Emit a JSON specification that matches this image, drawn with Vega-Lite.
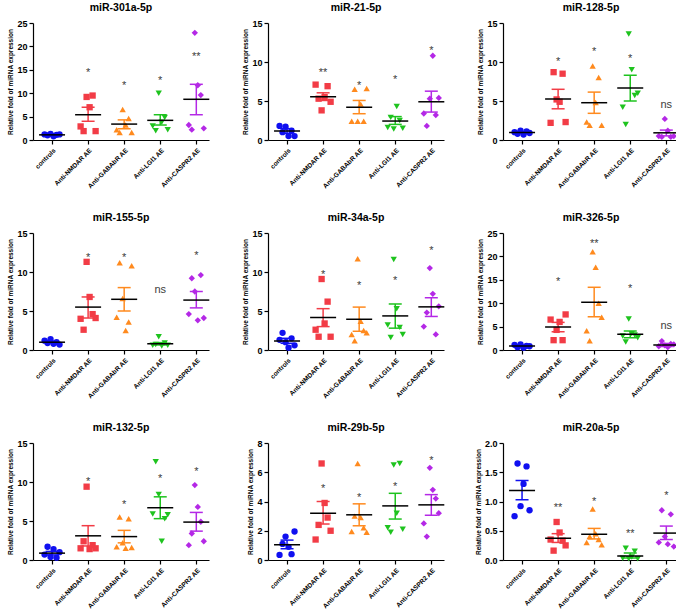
{
"$schema": "https://vega.github.io/schema/vega-lite/v6.json",
"padding": {"left": 7, "top": 2, "right": 2, "bottom": 2},
"columns": 3,
"spacing": {"row": 93, "column": 59},
"bounds": "flush",
"data": {"values": [
{"p":"miR-301a-5p","g":"controls","i":1,"y":1.2},{"p":"miR-301a-5p","g":"controls","i":2,"y":1.0},{"p":"miR-301a-5p","g":"controls","i":3,"y":1.3},{"p":"miR-301a-5p","g":"controls","i":4,"y":0.8},{"p":"miR-301a-5p","g":"controls","i":5,"y":1.1},{"p":"miR-301a-5p","g":"controls","i":6,"y":1.2},
{"p":"miR-301a-5p","g":"Anti-NMDAR AE","i":1,"y":2.9},{"p":"miR-301a-5p","g":"Anti-NMDAR AE","i":2,"y":1.9},{"p":"miR-301a-5p","g":"Anti-NMDAR AE","i":3,"y":9.2},{"p":"miR-301a-5p","g":"Anti-NMDAR AE","i":4,"y":7.0},{"p":"miR-301a-5p","g":"Anti-NMDAR AE","i":5,"y":9.5},{"p":"miR-301a-5p","g":"Anti-NMDAR AE","i":6,"y":1.9},
{"p":"miR-301a-5p","g":"Anti-GABAbR AE","i":1,"y":2.2},{"p":"miR-301a-5p","g":"Anti-GABAbR AE","i":2,"y":1.6},{"p":"miR-301a-5p","g":"Anti-GABAbR AE","i":3,"y":6.5},{"p":"miR-301a-5p","g":"Anti-GABAbR AE","i":4,"y":3.2},{"p":"miR-301a-5p","g":"Anti-GABAbR AE","i":5,"y":4.6},{"p":"miR-301a-5p","g":"Anti-GABAbR AE","i":6,"y":1.6},
{"p":"miR-301a-5p","g":"Anti-LGI1 AE","i":1,"y":3.0},{"p":"miR-301a-5p","g":"Anti-LGI1 AE","i":2,"y":2.0},{"p":"miR-301a-5p","g":"Anti-LGI1 AE","i":3,"y":10.0},{"p":"miR-301a-5p","g":"Anti-LGI1 AE","i":4,"y":3.8},{"p":"miR-301a-5p","g":"Anti-LGI1 AE","i":5,"y":4.8},{"p":"miR-301a-5p","g":"Anti-LGI1 AE","i":6,"y":2.2},
{"p":"miR-301a-5p","g":"Anti-CASPR2 AE","i":1,"y":3.2},{"p":"miR-301a-5p","g":"Anti-CASPR2 AE","i":2,"y":2.2},{"p":"miR-301a-5p","g":"Anti-CASPR2 AE","i":3,"y":22.9},{"p":"miR-301a-5p","g":"Anti-CASPR2 AE","i":4,"y":11.7},{"p":"miR-301a-5p","g":"Anti-CASPR2 AE","i":5,"y":9.6},{"p":"miR-301a-5p","g":"Anti-CASPR2 AE","i":6,"y":2.5},
{"p":"miR-21-5p","g":"controls","i":1,"y":1.8},{"p":"miR-21-5p","g":"controls","i":2,"y":1.0},{"p":"miR-21-5p","g":"controls","i":3,"y":1.7},{"p":"miR-21-5p","g":"controls","i":4,"y":0.5},{"p":"miR-21-5p","g":"controls","i":5,"y":1.2},{"p":"miR-21-5p","g":"controls","i":6,"y":0.5},
{"p":"miR-21-5p","g":"Anti-NMDAR AE","i":1,"y":7.1},{"p":"miR-21-5p","g":"Anti-NMDAR AE","i":2,"y":5.3},{"p":"miR-21-5p","g":"Anti-NMDAR AE","i":3,"y":3.8},{"p":"miR-21-5p","g":"Anti-NMDAR AE","i":4,"y":5.5},{"p":"miR-21-5p","g":"Anti-NMDAR AE","i":5,"y":6.9},{"p":"miR-21-5p","g":"Anti-NMDAR AE","i":6,"y":4.9},
{"p":"miR-21-5p","g":"Anti-GABAbR AE","i":1,"y":2.4},{"p":"miR-21-5p","g":"Anti-GABAbR AE","i":2,"y":6.5},{"p":"miR-21-5p","g":"Anti-GABAbR AE","i":3,"y":2.4},{"p":"miR-21-5p","g":"Anti-GABAbR AE","i":4,"y":4.6},{"p":"miR-21-5p","g":"Anti-GABAbR AE","i":5,"y":2.4},{"p":"miR-21-5p","g":"Anti-GABAbR AE","i":6,"y":6.6},
{"p":"miR-21-5p","g":"Anti-LGI1 AE","i":1,"y":1.6},{"p":"miR-21-5p","g":"Anti-LGI1 AE","i":2,"y":2.9},{"p":"miR-21-5p","g":"Anti-LGI1 AE","i":3,"y":1.4},{"p":"miR-21-5p","g":"Anti-LGI1 AE","i":4,"y":4.3},{"p":"miR-21-5p","g":"Anti-LGI1 AE","i":5,"y":2.5},{"p":"miR-21-5p","g":"Anti-LGI1 AE","i":6,"y":1.5},
{"p":"miR-21-5p","g":"Anti-CASPR2 AE","i":1,"y":3.4},{"p":"miR-21-5p","g":"Anti-CASPR2 AE","i":2,"y":1.8},{"p":"miR-21-5p","g":"Anti-CASPR2 AE","i":3,"y":5.3},{"p":"miR-21-5p","g":"Anti-CASPR2 AE","i":4,"y":10.8},{"p":"miR-21-5p","g":"Anti-CASPR2 AE","i":5,"y":3.2},{"p":"miR-21-5p","g":"Anti-CASPR2 AE","i":6,"y":5.4},
{"p":"miR-128-5p","g":"controls","i":1,"y":1.0},{"p":"miR-128-5p","g":"controls","i":2,"y":0.8},{"p":"miR-128-5p","g":"controls","i":3,"y":1.2},{"p":"miR-128-5p","g":"controls","i":4,"y":0.7},{"p":"miR-128-5p","g":"controls","i":5,"y":1.1},{"p":"miR-128-5p","g":"controls","i":6,"y":0.9},
{"p":"miR-128-5p","g":"Anti-NMDAR AE","i":1,"y":2.2},{"p":"miR-128-5p","g":"Anti-NMDAR AE","i":2,"y":8.7},{"p":"miR-128-5p","g":"Anti-NMDAR AE","i":3,"y":5.2},{"p":"miR-128-5p","g":"Anti-NMDAR AE","i":4,"y":4.9},{"p":"miR-128-5p","g":"Anti-NMDAR AE","i":5,"y":8.5},{"p":"miR-128-5p","g":"Anti-NMDAR AE","i":6,"y":2.3},
{"p":"miR-128-5p","g":"Anti-GABAbR AE","i":1,"y":2.3},{"p":"miR-128-5p","g":"Anti-GABAbR AE","i":2,"y":1.9},{"p":"miR-128-5p","g":"Anti-GABAbR AE","i":3,"y":9.5},{"p":"miR-128-5p","g":"Anti-GABAbR AE","i":4,"y":4.8},{"p":"miR-128-5p","g":"Anti-GABAbR AE","i":5,"y":8.0},{"p":"miR-128-5p","g":"Anti-GABAbR AE","i":6,"y":1.9},
{"p":"miR-128-5p","g":"Anti-LGI1 AE","i":1,"y":4.2},{"p":"miR-128-5p","g":"Anti-LGI1 AE","i":2,"y":2.0},{"p":"miR-128-5p","g":"Anti-LGI1 AE","i":3,"y":13.6},{"p":"miR-128-5p","g":"Anti-LGI1 AE","i":4,"y":9.0},{"p":"miR-128-5p","g":"Anti-LGI1 AE","i":5,"y":5.7},{"p":"miR-128-5p","g":"Anti-LGI1 AE","i":6,"y":6.0},
{"p":"miR-128-5p","g":"Anti-CASPR2 AE","i":1,"y":0.5},{"p":"miR-128-5p","g":"Anti-CASPR2 AE","i":2,"y":0.4},{"p":"miR-128-5p","g":"Anti-CASPR2 AE","i":3,"y":2.7},{"p":"miR-128-5p","g":"Anti-CASPR2 AE","i":4,"y":1.2},{"p":"miR-128-5p","g":"Anti-CASPR2 AE","i":5,"y":0.4},{"p":"miR-128-5p","g":"Anti-CASPR2 AE","i":6,"y":0.5},
{"p":"miR-155-5p","g":"controls","i":1,"y":1.2},{"p":"miR-155-5p","g":"controls","i":2,"y":0.9},{"p":"miR-155-5p","g":"controls","i":3,"y":1.4},{"p":"miR-155-5p","g":"controls","i":4,"y":0.8},{"p":"miR-155-5p","g":"controls","i":5,"y":1.0},{"p":"miR-155-5p","g":"controls","i":6,"y":0.7},
{"p":"miR-155-5p","g":"Anti-NMDAR AE","i":1,"y":4.0},{"p":"miR-155-5p","g":"Anti-NMDAR AE","i":2,"y":2.6},{"p":"miR-155-5p","g":"Anti-NMDAR AE","i":3,"y":11.3},{"p":"miR-155-5p","g":"Anti-NMDAR AE","i":4,"y":6.8},{"p":"miR-155-5p","g":"Anti-NMDAR AE","i":5,"y":4.6},{"p":"miR-155-5p","g":"Anti-NMDAR AE","i":6,"y":4.1},
{"p":"miR-155-5p","g":"Anti-GABAbR AE","i":1,"y":4.2},{"p":"miR-155-5p","g":"Anti-GABAbR AE","i":2,"y":11.2},{"p":"miR-155-5p","g":"Anti-GABAbR AE","i":3,"y":6.6},{"p":"miR-155-5p","g":"Anti-GABAbR AE","i":4,"y":2.5},{"p":"miR-155-5p","g":"Anti-GABAbR AE","i":5,"y":3.6},{"p":"miR-155-5p","g":"Anti-GABAbR AE","i":6,"y":10.8},
{"p":"miR-155-5p","g":"Anti-LGI1 AE","i":1,"y":0.6},{"p":"miR-155-5p","g":"Anti-LGI1 AE","i":2,"y":0.7},{"p":"miR-155-5p","g":"Anti-LGI1 AE","i":3,"y":1.7},{"p":"miR-155-5p","g":"Anti-LGI1 AE","i":4,"y":0.5},{"p":"miR-155-5p","g":"Anti-LGI1 AE","i":5,"y":0.9},{"p":"miR-155-5p","g":"Anti-LGI1 AE","i":6,"y":0.6},
{"p":"miR-155-5p","g":"Anti-CASPR2 AE","i":1,"y":4.6},{"p":"miR-155-5p","g":"Anti-CASPR2 AE","i":2,"y":9.2},{"p":"miR-155-5p","g":"Anti-CASPR2 AE","i":3,"y":7.5},{"p":"miR-155-5p","g":"Anti-CASPR2 AE","i":4,"y":3.8},{"p":"miR-155-5p","g":"Anti-CASPR2 AE","i":5,"y":9.6},{"p":"miR-155-5p","g":"Anti-CASPR2 AE","i":6,"y":4.1},
{"p":"miR-34a-5p","g":"controls","i":1,"y":1.3},{"p":"miR-34a-5p","g":"controls","i":2,"y":2.2},{"p":"miR-34a-5p","g":"controls","i":3,"y":1.0},{"p":"miR-34a-5p","g":"controls","i":4,"y":0.3},{"p":"miR-34a-5p","g":"controls","i":5,"y":1.5},{"p":"miR-34a-5p","g":"controls","i":6,"y":0.6},
{"p":"miR-34a-5p","g":"Anti-NMDAR AE","i":1,"y":2.6},{"p":"miR-34a-5p","g":"Anti-NMDAR AE","i":2,"y":1.7},{"p":"miR-34a-5p","g":"Anti-NMDAR AE","i":3,"y":9.1},{"p":"miR-34a-5p","g":"Anti-NMDAR AE","i":4,"y":3.4},{"p":"miR-34a-5p","g":"Anti-NMDAR AE","i":5,"y":6.2},{"p":"miR-34a-5p","g":"Anti-NMDAR AE","i":6,"y":1.7},
{"p":"miR-34a-5p","g":"Anti-GABAbR AE","i":1,"y":2.0},{"p":"miR-34a-5p","g":"Anti-GABAbR AE","i":2,"y":1.2},{"p":"miR-34a-5p","g":"Anti-GABAbR AE","i":3,"y":11.7},{"p":"miR-34a-5p","g":"Anti-GABAbR AE","i":4,"y":3.7},{"p":"miR-34a-5p","g":"Anti-GABAbR AE","i":5,"y":2.5},{"p":"miR-34a-5p","g":"Anti-GABAbR AE","i":6,"y":2.2},
{"p":"miR-34a-5p","g":"Anti-LGI1 AE","i":1,"y":3.2},{"p":"miR-34a-5p","g":"Anti-LGI1 AE","i":2,"y":1.6},{"p":"miR-34a-5p","g":"Anti-LGI1 AE","i":3,"y":11.6},{"p":"miR-34a-5p","g":"Anti-LGI1 AE","i":4,"y":5.3},{"p":"miR-34a-5p","g":"Anti-LGI1 AE","i":5,"y":2.9},{"p":"miR-34a-5p","g":"Anti-LGI1 AE","i":6,"y":2.0},
{"p":"miR-34a-5p","g":"Anti-CASPR2 AE","i":1,"y":3.0},{"p":"miR-34a-5p","g":"Anti-CASPR2 AE","i":2,"y":4.8},{"p":"miR-34a-5p","g":"Anti-CASPR2 AE","i":3,"y":10.5},{"p":"miR-34a-5p","g":"Anti-CASPR2 AE","i":4,"y":7.2},{"p":"miR-34a-5p","g":"Anti-CASPR2 AE","i":5,"y":2.0},{"p":"miR-34a-5p","g":"Anti-CASPR2 AE","i":6,"y":5.6},
{"p":"miR-326-5p","g":"controls","i":1,"y":1.1},{"p":"miR-326-5p","g":"controls","i":2,"y":0.6},{"p":"miR-326-5p","g":"controls","i":3,"y":1.2},{"p":"miR-326-5p","g":"controls","i":4,"y":0.5},{"p":"miR-326-5p","g":"controls","i":5,"y":0.9},{"p":"miR-326-5p","g":"controls","i":6,"y":0.8},
{"p":"miR-326-5p","g":"Anti-NMDAR AE","i":1,"y":6.5},{"p":"miR-326-5p","g":"Anti-NMDAR AE","i":2,"y":2.1},{"p":"miR-326-5p","g":"Anti-NMDAR AE","i":3,"y":4.3},{"p":"miR-326-5p","g":"Anti-NMDAR AE","i":4,"y":6.0},{"p":"miR-326-5p","g":"Anti-NMDAR AE","i":5,"y":2.1},{"p":"miR-326-5p","g":"Anti-NMDAR AE","i":6,"y":7.6},
{"p":"miR-326-5p","g":"Anti-GABAbR AE","i":1,"y":4.1},{"p":"miR-326-5p","g":"Anti-GABAbR AE","i":2,"y":2.0},{"p":"miR-326-5p","g":"Anti-GABAbR AE","i":3,"y":21.0},{"p":"miR-326-5p","g":"Anti-GABAbR AE","i":4,"y":17.7},{"p":"miR-326-5p","g":"Anti-GABAbR AE","i":5,"y":10.0},{"p":"miR-326-5p","g":"Anti-GABAbR AE","i":6,"y":7.0},
{"p":"miR-326-5p","g":"Anti-LGI1 AE","i":1,"y":3.0},{"p":"miR-326-5p","g":"Anti-LGI1 AE","i":2,"y":1.7},{"p":"miR-326-5p","g":"Anti-LGI1 AE","i":3,"y":6.6},{"p":"miR-326-5p","g":"Anti-LGI1 AE","i":4,"y":3.5},{"p":"miR-326-5p","g":"Anti-LGI1 AE","i":5,"y":3.2},{"p":"miR-326-5p","g":"Anti-LGI1 AE","i":6,"y":2.6},
{"p":"miR-326-5p","g":"Anti-CASPR2 AE","i":1,"y":0.8},{"p":"miR-326-5p","g":"Anti-CASPR2 AE","i":2,"y":1.9},{"p":"miR-326-5p","g":"Anti-CASPR2 AE","i":3,"y":1.0},{"p":"miR-326-5p","g":"Anti-CASPR2 AE","i":4,"y":0.6},{"p":"miR-326-5p","g":"Anti-CASPR2 AE","i":5,"y":1.3},{"p":"miR-326-5p","g":"Anti-CASPR2 AE","i":6,"y":1.2},
{"p":"miR-132-5p","g":"controls","i":1,"y":0.7},{"p":"miR-132-5p","g":"controls","i":2,"y":1.7},{"p":"miR-132-5p","g":"controls","i":3,"y":0.4},{"p":"miR-132-5p","g":"controls","i":4,"y":1.4},{"p":"miR-132-5p","g":"controls","i":5,"y":0.3},{"p":"miR-132-5p","g":"controls","i":6,"y":1.0},
{"p":"miR-132-5p","g":"Anti-NMDAR AE","i":1,"y":1.5},{"p":"miR-132-5p","g":"Anti-NMDAR AE","i":2,"y":2.4},{"p":"miR-132-5p","g":"Anti-NMDAR AE","i":3,"y":9.4},{"p":"miR-132-5p","g":"Anti-NMDAR AE","i":4,"y":1.4},{"p":"miR-132-5p","g":"Anti-NMDAR AE","i":5,"y":1.9},{"p":"miR-132-5p","g":"Anti-NMDAR AE","i":6,"y":1.5},
{"p":"miR-132-5p","g":"Anti-GABAbR AE","i":1,"y":1.7},{"p":"miR-132-5p","g":"Anti-GABAbR AE","i":2,"y":5.5},{"p":"miR-132-5p","g":"Anti-GABAbR AE","i":3,"y":2.2},{"p":"miR-132-5p","g":"Anti-GABAbR AE","i":4,"y":1.5},{"p":"miR-132-5p","g":"Anti-GABAbR AE","i":5,"y":5.3},{"p":"miR-132-5p","g":"Anti-GABAbR AE","i":6,"y":1.6},
{"p":"miR-132-5p","g":"Anti-LGI1 AE","i":1,"y":5.9},{"p":"miR-132-5p","g":"Anti-LGI1 AE","i":2,"y":12.6},{"p":"miR-132-5p","g":"Anti-LGI1 AE","i":3,"y":8.4},{"p":"miR-132-5p","g":"Anti-LGI1 AE","i":4,"y":2.4},{"p":"miR-132-5p","g":"Anti-LGI1 AE","i":5,"y":5.3},{"p":"miR-132-5p","g":"Anti-LGI1 AE","i":6,"y":5.8},
{"p":"miR-132-5p","g":"Anti-CASPR2 AE","i":1,"y":1.9},{"p":"miR-132-5p","g":"Anti-CASPR2 AE","i":2,"y":3.4},{"p":"miR-132-5p","g":"Anti-CASPR2 AE","i":3,"y":9.6},{"p":"miR-132-5p","g":"Anti-CASPR2 AE","i":4,"y":6.8},{"p":"miR-132-5p","g":"Anti-CASPR2 AE","i":5,"y":4.9},{"p":"miR-132-5p","g":"Anti-CASPR2 AE","i":6,"y":2.4},
{"p":"miR-29b-5p","g":"controls","i":1,"y":0.35},{"p":"miR-29b-5p","g":"controls","i":2,"y":1.1},{"p":"miR-29b-5p","g":"controls","i":3,"y":1.6},{"p":"miR-29b-5p","g":"controls","i":4,"y":0.9},{"p":"miR-29b-5p","g":"controls","i":5,"y":0.4},{"p":"miR-29b-5p","g":"controls","i":6,"y":1.95},
{"p":"miR-29b-5p","g":"Anti-NMDAR AE","i":1,"y":1.4},{"p":"miR-29b-5p","g":"Anti-NMDAR AE","i":2,"y":2.4},{"p":"miR-29b-5p","g":"Anti-NMDAR AE","i":3,"y":6.6},{"p":"miR-29b-5p","g":"Anti-NMDAR AE","i":4,"y":3.9},{"p":"miR-29b-5p","g":"Anti-NMDAR AE","i":5,"y":2.9},{"p":"miR-29b-5p","g":"Anti-NMDAR AE","i":6,"y":2.0},
{"p":"miR-29b-5p","g":"Anti-GABAbR AE","i":1,"y":1.95},{"p":"miR-29b-5p","g":"Anti-GABAbR AE","i":2,"y":3.0},{"p":"miR-29b-5p","g":"Anti-GABAbR AE","i":3,"y":6.6},{"p":"miR-29b-5p","g":"Anti-GABAbR AE","i":4,"y":2.9},{"p":"miR-29b-5p","g":"Anti-GABAbR AE","i":5,"y":2.2},{"p":"miR-29b-5p","g":"Anti-GABAbR AE","i":6,"y":1.9},
{"p":"miR-29b-5p","g":"Anti-LGI1 AE","i":1,"y":2.2},{"p":"miR-29b-5p","g":"Anti-LGI1 AE","i":2,"y":1.9},{"p":"miR-29b-5p","g":"Anti-LGI1 AE","i":3,"y":6.5},{"p":"miR-29b-5p","g":"Anti-LGI1 AE","i":4,"y":3.2},{"p":"miR-29b-5p","g":"Anti-LGI1 AE","i":5,"y":6.6},{"p":"miR-29b-5p","g":"Anti-LGI1 AE","i":6,"y":2.1},
{"p":"miR-29b-5p","g":"Anti-CASPR2 AE","i":1,"y":2.5},{"p":"miR-29b-5p","g":"Anti-CASPR2 AE","i":2,"y":1.6},{"p":"miR-29b-5p","g":"Anti-CASPR2 AE","i":3,"y":6.3},{"p":"miR-29b-5p","g":"Anti-CASPR2 AE","i":4,"y":4.8},{"p":"miR-29b-5p","g":"Anti-CASPR2 AE","i":5,"y":4.2},{"p":"miR-29b-5p","g":"Anti-CASPR2 AE","i":6,"y":3.2},
{"p":"miR-20a-5p","g":"controls","i":1,"y":0.75},{"p":"miR-20a-5p","g":"controls","i":2,"y":1.65},{"p":"miR-20a-5p","g":"controls","i":3,"y":0.92},{"p":"miR-20a-5p","g":"controls","i":4,"y":1.3},{"p":"miR-20a-5p","g":"controls","i":5,"y":1.6},{"p":"miR-20a-5p","g":"controls","i":6,"y":0.85},
{"p":"miR-20a-5p","g":"Anti-NMDAR AE","i":1,"y":0.35},{"p":"miR-20a-5p","g":"Anti-NMDAR AE","i":2,"y":0.16},{"p":"miR-20a-5p","g":"Anti-NMDAR AE","i":3,"y":0.65},{"p":"miR-20a-5p","g":"Anti-NMDAR AE","i":4,"y":0.47},{"p":"miR-20a-5p","g":"Anti-NMDAR AE","i":5,"y":0.33},{"p":"miR-20a-5p","g":"Anti-NMDAR AE","i":6,"y":0.25},
{"p":"miR-20a-5p","g":"Anti-GABAbR AE","i":1,"y":0.3},{"p":"miR-20a-5p","g":"Anti-GABAbR AE","i":2,"y":0.4},{"p":"miR-20a-5p","g":"Anti-GABAbR AE","i":3,"y":0.87},{"p":"miR-20a-5p","g":"Anti-GABAbR AE","i":4,"y":0.45},{"p":"miR-20a-5p","g":"Anti-GABAbR AE","i":5,"y":0.35},{"p":"miR-20a-5p","g":"Anti-GABAbR AE","i":6,"y":0.26},
{"p":"miR-20a-5p","g":"Anti-LGI1 AE","i":1,"y":0.03},{"p":"miR-20a-5p","g":"Anti-LGI1 AE","i":2,"y":0.2},{"p":"miR-20a-5p","g":"Anti-LGI1 AE","i":3,"y":0.02},{"p":"miR-20a-5p","g":"Anti-LGI1 AE","i":4,"y":0.05},{"p":"miR-20a-5p","g":"Anti-LGI1 AE","i":5,"y":0.15},{"p":"miR-20a-5p","g":"Anti-LGI1 AE","i":6,"y":0.02},
{"p":"miR-20a-5p","g":"Anti-CASPR2 AE","i":1,"y":0.3},{"p":"miR-20a-5p","g":"Anti-CASPR2 AE","i":2,"y":0.85},{"p":"miR-20a-5p","g":"Anti-CASPR2 AE","i":3,"y":0.4},{"p":"miR-20a-5p","g":"Anti-CASPR2 AE","i":4,"y":0.27},{"p":"miR-20a-5p","g":"Anti-CASPR2 AE","i":5,"y":0.78},{"p":"miR-20a-5p","g":"Anti-CASPR2 AE","i":6,"y":0.23},
{"p":"miR-301a-5p","g":"controls","k":"m","y":1.1},{"p":"miR-301a-5p","g":"controls","k":"e","y":0.95,"y2":1.25},{"p":"miR-301a-5p","g":"controls","k":"c","y":1.25},
{"p":"miR-301a-5p","g":"Anti-NMDAR AE","k":"m","y":5.4},{"p":"miR-301a-5p","g":"Anti-NMDAR AE","k":"e","y":4.0,"y2":7.0},{"p":"miR-301a-5p","g":"Anti-NMDAR AE","k":"c","y":7.0},{"p":"miR-301a-5p","g":"Anti-NMDAR AE","k":"s","y":14.7,"s":"*"},
{"p":"miR-301a-5p","g":"Anti-GABAbR AE","k":"m","y":3.4},{"p":"miR-301a-5p","g":"Anti-GABAbR AE","k":"e","y":2.4,"y2":4.3},{"p":"miR-301a-5p","g":"Anti-GABAbR AE","k":"c","y":4.3},{"p":"miR-301a-5p","g":"Anti-GABAbR AE","k":"s","y":11.9,"s":"*"},
{"p":"miR-301a-5p","g":"Anti-LGI1 AE","k":"m","y":4.2},{"p":"miR-301a-5p","g":"Anti-LGI1 AE","k":"e","y":3.2,"y2":5.4},{"p":"miR-301a-5p","g":"Anti-LGI1 AE","k":"c","y":5.4},{"p":"miR-301a-5p","g":"Anti-LGI1 AE","k":"s","y":13.0,"s":"*"},
{"p":"miR-301a-5p","g":"Anti-CASPR2 AE","k":"m","y":8.7},{"p":"miR-301a-5p","g":"Anti-CASPR2 AE","k":"e","y":5.4,"y2":11.9},{"p":"miR-301a-5p","g":"Anti-CASPR2 AE","k":"c","y":11.9},{"p":"miR-301a-5p","g":"Anti-CASPR2 AE","k":"s","y":18.2,"s":"**"},
{"p":"miR-21-5p","g":"controls","k":"m","y":1.15},{"p":"miR-21-5p","g":"controls","k":"e","y":0.85,"y2":1.45},{"p":"miR-21-5p","g":"controls","k":"c","y":1.45},
{"p":"miR-21-5p","g":"Anti-NMDAR AE","k":"m","y":5.55},{"p":"miR-21-5p","g":"Anti-NMDAR AE","k":"e","y":5.07,"y2":6.05},{"p":"miR-21-5p","g":"Anti-NMDAR AE","k":"c","y":6.05},{"p":"miR-21-5p","g":"Anti-NMDAR AE","k":"s","y":8.9,"s":"**"},
{"p":"miR-21-5p","g":"Anti-GABAbR AE","k":"m","y":4.2},{"p":"miR-21-5p","g":"Anti-GABAbR AE","k":"e","y":3.37,"y2":5.07},{"p":"miR-21-5p","g":"Anti-GABAbR AE","k":"c","y":5.07},{"p":"miR-21-5p","g":"Anti-GABAbR AE","k":"s","y":7.2,"s":"*"},
{"p":"miR-21-5p","g":"Anti-LGI1 AE","k":"m","y":2.43},{"p":"miR-21-5p","g":"Anti-LGI1 AE","k":"e","y":2.0,"y2":3.0},{"p":"miR-21-5p","g":"Anti-LGI1 AE","k":"c","y":3.0},{"p":"miR-21-5p","g":"Anti-LGI1 AE","k":"s","y":8.0,"s":"*"},
{"p":"miR-21-5p","g":"Anti-CASPR2 AE","k":"m","y":4.9},{"p":"miR-21-5p","g":"Anti-CASPR2 AE","k":"e","y":3.58,"y2":6.26},{"p":"miR-21-5p","g":"Anti-CASPR2 AE","k":"c","y":6.26},{"p":"miR-21-5p","g":"Anti-CASPR2 AE","k":"s","y":11.7,"s":"*"},
{"p":"miR-128-5p","g":"controls","k":"m","y":0.96},{"p":"miR-128-5p","g":"controls","k":"e","y":0.85,"y2":1.07},{"p":"miR-128-5p","g":"controls","k":"c","y":1.07},
{"p":"miR-128-5p","g":"Anti-NMDAR AE","k":"m","y":5.26},{"p":"miR-128-5p","g":"Anti-NMDAR AE","k":"e","y":4.0,"y2":6.5},{"p":"miR-128-5p","g":"Anti-NMDAR AE","k":"c","y":6.5},{"p":"miR-128-5p","g":"Anti-NMDAR AE","k":"s","y":10.2,"s":"*"},
{"p":"miR-128-5p","g":"Anti-GABAbR AE","k":"m","y":4.78},{"p":"miR-128-5p","g":"Anti-GABAbR AE","k":"e","y":3.42,"y2":6.14},{"p":"miR-128-5p","g":"Anti-GABAbR AE","k":"c","y":6.14},{"p":"miR-128-5p","g":"Anti-GABAbR AE","k":"s","y":11.5,"s":"*"},
{"p":"miR-128-5p","g":"Anti-LGI1 AE","k":"m","y":6.67},{"p":"miR-128-5p","g":"Anti-LGI1 AE","k":"e","y":5.0,"y2":8.3},{"p":"miR-128-5p","g":"Anti-LGI1 AE","k":"c","y":8.3},{"p":"miR-128-5p","g":"Anti-LGI1 AE","k":"s","y":10.6,"s":"*"},
{"p":"miR-128-5p","g":"Anti-CASPR2 AE","k":"m","y":0.92},{"p":"miR-128-5p","g":"Anti-CASPR2 AE","k":"e","y":0.53,"y2":1.27},{"p":"miR-128-5p","g":"Anti-CASPR2 AE","k":"c","y":1.27},{"p":"miR-128-5p","g":"Anti-CASPR2 AE","k":"s","y":4.7,"s":"ns"},
{"p":"miR-155-5p","g":"controls","k":"m","y":1.0},{"p":"miR-155-5p","g":"controls","k":"e","y":0.88,"y2":1.12},{"p":"miR-155-5p","g":"controls","k":"c","y":1.12},
{"p":"miR-155-5p","g":"Anti-NMDAR AE","k":"m","y":5.5},{"p":"miR-155-5p","g":"Anti-NMDAR AE","k":"e","y":4.1,"y2":6.8},{"p":"miR-155-5p","g":"Anti-NMDAR AE","k":"c","y":6.8},{"p":"miR-155-5p","g":"Anti-NMDAR AE","k":"s","y":12.0,"s":"*"},
{"p":"miR-155-5p","g":"Anti-GABAbR AE","k":"m","y":6.5},{"p":"miR-155-5p","g":"Anti-GABAbR AE","k":"e","y":5.0,"y2":8.0},{"p":"miR-155-5p","g":"Anti-GABAbR AE","k":"c","y":8.0},{"p":"miR-155-5p","g":"Anti-GABAbR AE","k":"s","y":12.0,"s":"*"},
{"p":"miR-155-5p","g":"Anti-LGI1 AE","k":"m","y":0.8},{"p":"miR-155-5p","g":"Anti-LGI1 AE","k":"e","y":0.65,"y2":0.95},{"p":"miR-155-5p","g":"Anti-LGI1 AE","k":"c","y":0.95},{"p":"miR-155-5p","g":"Anti-LGI1 AE","k":"s","y":8.0,"s":"ns"},
{"p":"miR-155-5p","g":"Anti-CASPR2 AE","k":"m","y":6.4},{"p":"miR-155-5p","g":"Anti-CASPR2 AE","k":"e","y":5.4,"y2":7.5},{"p":"miR-155-5p","g":"Anti-CASPR2 AE","k":"c","y":7.5},{"p":"miR-155-5p","g":"Anti-CASPR2 AE","k":"s","y":12.3,"s":"*"},
{"p":"miR-34a-5p","g":"controls","k":"m","y":1.16},{"p":"miR-34a-5p","g":"controls","k":"e","y":0.86,"y2":1.5},{"p":"miR-34a-5p","g":"controls","k":"c","y":1.5},
{"p":"miR-34a-5p","g":"Anti-NMDAR AE","k":"m","y":4.16},{"p":"miR-34a-5p","g":"Anti-NMDAR AE","k":"e","y":3.0,"y2":5.3},{"p":"miR-34a-5p","g":"Anti-NMDAR AE","k":"c","y":5.3},{"p":"miR-34a-5p","g":"Anti-NMDAR AE","k":"s","y":9.9,"s":"*"},
{"p":"miR-34a-5p","g":"Anti-GABAbR AE","k":"m","y":3.94},{"p":"miR-34a-5p","g":"Anti-GABAbR AE","k":"e","y":2.4,"y2":5.5},{"p":"miR-34a-5p","g":"Anti-GABAbR AE","k":"c","y":5.5},{"p":"miR-34a-5p","g":"Anti-GABAbR AE","k":"s","y":8.4,"s":"*"},
{"p":"miR-34a-5p","g":"Anti-LGI1 AE","k":"m","y":4.37},{"p":"miR-34a-5p","g":"Anti-LGI1 AE","k":"e","y":2.8,"y2":5.9},{"p":"miR-34a-5p","g":"Anti-LGI1 AE","k":"c","y":5.9},{"p":"miR-34a-5p","g":"Anti-LGI1 AE","k":"s","y":9.1,"s":"*"},
{"p":"miR-34a-5p","g":"Anti-CASPR2 AE","k":"m","y":5.53},{"p":"miR-34a-5p","g":"Anti-CASPR2 AE","k":"e","y":4.3,"y2":6.7},{"p":"miR-34a-5p","g":"Anti-CASPR2 AE","k":"c","y":6.7},{"p":"miR-34a-5p","g":"Anti-CASPR2 AE","k":"s","y":12.9,"s":"*"},
{"p":"miR-326-5p","g":"controls","k":"m","y":0.85},{"p":"miR-326-5p","g":"controls","k":"e","y":0.7,"y2":1.0},{"p":"miR-326-5p","g":"controls","k":"c","y":1.0},
{"p":"miR-326-5p","g":"Anti-NMDAR AE","k":"m","y":4.9},{"p":"miR-326-5p","g":"Anti-NMDAR AE","k":"e","y":3.9,"y2":5.9},{"p":"miR-326-5p","g":"Anti-NMDAR AE","k":"c","y":5.9},{"p":"miR-326-5p","g":"Anti-NMDAR AE","k":"s","y":14.9,"s":"*"},
{"p":"miR-326-5p","g":"Anti-GABAbR AE","k":"m","y":10.2},{"p":"miR-326-5p","g":"Anti-GABAbR AE","k":"e","y":7.1,"y2":13.4},{"p":"miR-326-5p","g":"Anti-GABAbR AE","k":"c","y":13.4},{"p":"miR-326-5p","g":"Anti-GABAbR AE","k":"s","y":23.1,"s":"**"},
{"p":"miR-326-5p","g":"Anti-LGI1 AE","k":"m","y":3.35},{"p":"miR-326-5p","g":"Anti-LGI1 AE","k":"e","y":2.6,"y2":4.06},{"p":"miR-326-5p","g":"Anti-LGI1 AE","k":"c","y":4.06},{"p":"miR-326-5p","g":"Anti-LGI1 AE","k":"s","y":13.5,"s":"*"},
{"p":"miR-326-5p","g":"Anti-CASPR2 AE","k":"m","y":1.07},{"p":"miR-326-5p","g":"Anti-CASPR2 AE","k":"e","y":0.75,"y2":1.4},{"p":"miR-326-5p","g":"Anti-CASPR2 AE","k":"c","y":1.4},{"p":"miR-326-5p","g":"Anti-CASPR2 AE","k":"s","y":5.6,"s":"ns"},
{"p":"miR-132-5p","g":"controls","k":"m","y":0.88},{"p":"miR-132-5p","g":"controls","k":"e","y":0.65,"y2":1.1},{"p":"miR-132-5p","g":"controls","k":"c","y":1.1},
{"p":"miR-132-5p","g":"Anti-NMDAR AE","k":"m","y":3.1},{"p":"miR-132-5p","g":"Anti-NMDAR AE","k":"e","y":1.8,"y2":4.4},{"p":"miR-132-5p","g":"Anti-NMDAR AE","k":"c","y":4.4},{"p":"miR-132-5p","g":"Anti-NMDAR AE","k":"s","y":10.3,"s":"*"},
{"p":"miR-132-5p","g":"Anti-GABAbR AE","k":"m","y":3.0},{"p":"miR-132-5p","g":"Anti-GABAbR AE","k":"e","y":2.2,"y2":3.8},{"p":"miR-132-5p","g":"Anti-GABAbR AE","k":"c","y":3.8},{"p":"miR-132-5p","g":"Anti-GABAbR AE","k":"s","y":7.3,"s":"*"},
{"p":"miR-132-5p","g":"Anti-LGI1 AE","k":"m","y":6.7},{"p":"miR-132-5p","g":"Anti-LGI1 AE","k":"e","y":5.3,"y2":8.1},{"p":"miR-132-5p","g":"Anti-LGI1 AE","k":"c","y":8.1},{"p":"miR-132-5p","g":"Anti-LGI1 AE","k":"s","y":10.6,"s":"*"},
{"p":"miR-132-5p","g":"Anti-CASPR2 AE","k":"m","y":4.86},{"p":"miR-132-5p","g":"Anti-CASPR2 AE","k":"e","y":3.7,"y2":6.1},{"p":"miR-132-5p","g":"Anti-CASPR2 AE","k":"c","y":6.1},{"p":"miR-132-5p","g":"Anti-CASPR2 AE","k":"s","y":11.6,"s":"*"},
{"p":"miR-29b-5p","g":"controls","k":"m","y":1.05},{"p":"miR-29b-5p","g":"controls","k":"e","y":0.77,"y2":1.36},{"p":"miR-29b-5p","g":"controls","k":"c","y":1.36},
{"p":"miR-29b-5p","g":"Anti-NMDAR AE","k":"m","y":3.2},{"p":"miR-29b-5p","g":"Anti-NMDAR AE","k":"e","y":2.46,"y2":4.0},{"p":"miR-29b-5p","g":"Anti-NMDAR AE","k":"c","y":4.0},{"p":"miR-29b-5p","g":"Anti-NMDAR AE","k":"s","y":5.0,"s":"*"},
{"p":"miR-29b-5p","g":"Anti-GABAbR AE","k":"m","y":3.09},{"p":"miR-29b-5p","g":"Anti-GABAbR AE","k":"e","y":2.34,"y2":3.84},{"p":"miR-29b-5p","g":"Anti-GABAbR AE","k":"c","y":3.84},{"p":"miR-29b-5p","g":"Anti-GABAbR AE","k":"s","y":4.4,"s":"*"},
{"p":"miR-29b-5p","g":"Anti-LGI1 AE","k":"m","y":3.7},{"p":"miR-29b-5p","g":"Anti-LGI1 AE","k":"e","y":2.8,"y2":4.56},{"p":"miR-29b-5p","g":"Anti-LGI1 AE","k":"c","y":4.56},{"p":"miR-29b-5p","g":"Anti-LGI1 AE","k":"s","y":5.1,"s":"*"},
{"p":"miR-29b-5p","g":"Anti-CASPR2 AE","k":"m","y":3.77},{"p":"miR-29b-5p","g":"Anti-CASPR2 AE","k":"e","y":3.06,"y2":4.47},{"p":"miR-29b-5p","g":"Anti-CASPR2 AE","k":"c","y":4.47},{"p":"miR-29b-5p","g":"Anti-CASPR2 AE","k":"s","y":6.9,"s":"*"},
{"p":"miR-20a-5p","g":"controls","k":"m","y":1.19},{"p":"miR-20a-5p","g":"controls","k":"e","y":1.03,"y2":1.36},{"p":"miR-20a-5p","g":"controls","k":"c","y":1.36},
{"p":"miR-20a-5p","g":"Anti-NMDAR AE","k":"m","y":0.37},{"p":"miR-20a-5p","g":"Anti-NMDAR AE","k":"e","y":0.3,"y2":0.45},{"p":"miR-20a-5p","g":"Anti-NMDAR AE","k":"c","y":0.45},{"p":"miR-20a-5p","g":"Anti-NMDAR AE","k":"s","y":0.92,"s":"**"},
{"p":"miR-20a-5p","g":"Anti-GABAbR AE","k":"m","y":0.44},{"p":"miR-20a-5p","g":"Anti-GABAbR AE","k":"e","y":0.36,"y2":0.54},{"p":"miR-20a-5p","g":"Anti-GABAbR AE","k":"c","y":0.54},{"p":"miR-20a-5p","g":"Anti-GABAbR AE","k":"s","y":1.03,"s":"*"},
{"p":"miR-20a-5p","g":"Anti-LGI1 AE","k":"m","y":0.07},{"p":"miR-20a-5p","g":"Anti-LGI1 AE","k":"e","y":0.035,"y2":0.12},{"p":"miR-20a-5p","g":"Anti-LGI1 AE","k":"c","y":0.12},{"p":"miR-20a-5p","g":"Anti-LGI1 AE","k":"s","y":0.48,"s":"**"},
{"p":"miR-20a-5p","g":"Anti-CASPR2 AE","k":"m","y":0.46},{"p":"miR-20a-5p","g":"Anti-CASPR2 AE","k":"e","y":0.35,"y2":0.58},{"p":"miR-20a-5p","g":"Anti-CASPR2 AE","k":"c","y":0.58},{"p":"miR-20a-5p","g":"Anti-CASPR2 AE","k":"s","y":1.12,"s":"*"}
]},
"concat": [
{"title":"miR-301a-5p","width":176,"height":117,"transform":[{"filter":{"field":"p","equal":"miR-301a-5p"}}],
"encoding":{"x":{"field":"g","type":"nominal","title":null,"scale":{"type":"point","domain":["controls","Anti-NMDAR AE","Anti-GABAbR AE","Anti-LGI1 AE","Anti-CASPR2 AE"],"padding":0.44,"align":0.6}},"color":{"field":"g","type":"nominal"},
"y":{"field":"y","type":"quantitative","title":"Relative fold of miRNA expression","scale":{"domain":[0,25],"nice":false},"axis":{"values":[0,5,10,15,20,25]}}},
"layer":[
{"transform":[{"filter":"isValid(datum.i)"}],"mark":{"type":"point","filled":true,"size":40,"opacity":1},"encoding":{"xOffset":{"field":"i","type":"nominal","scale":{"range":[-9,9]}},"shape":{"field":"g","type":"nominal"}}},
{"transform":[{"filter":{"field":"k","equal":"e"}}],"mark":{"type":"rule","strokeWidth":1.5},"encoding":{"y2":{"field":"y2"}}},
{"transform":[{"filter":{"field":"k","equal":"e"}}],"mark":{"type":"tick","size":13,"thickness":1.5,"opacity":1}},
{"transform":[{"filter":{"field":"k","equal":"c"}}],"mark":{"type":"tick","size":13,"thickness":1.5,"opacity":1}},
{"transform":[{"filter":{"field":"k","equal":"m"}}],"mark":{"type":"tick","size":26,"thickness":1.5,"opacity":1},"encoding":{"color":{"value":"#000"}}},
{"transform":[{"filter":{"field":"k","equal":"s"}}],"mark":{"type":"text","fontSize":11,"dy":2},"encoding":{"text":{"field":"s"},"color":{"value":"#3c3c3c"}}}
]},
{"title":"miR-21-5p","width":176,"height":117,"transform":[{"filter":{"field":"p","equal":"miR-21-5p"}}],
"encoding":{"x":{"field":"g","type":"nominal","title":null,"scale":{"type":"point","domain":["controls","Anti-NMDAR AE","Anti-GABAbR AE","Anti-LGI1 AE","Anti-CASPR2 AE"],"padding":0.44,"align":0.6}},"color":{"field":"g","type":"nominal"},
"y":{"field":"y","type":"quantitative","title":"Relative fold of miRNA expression","scale":{"domain":[0,15],"nice":false},"axis":{"values":[0,5,10,15]}}},
"layer":[
{"transform":[{"filter":"isValid(datum.i)"}],"mark":{"type":"point","filled":true,"size":40,"opacity":1},"encoding":{"xOffset":{"field":"i","type":"nominal","scale":{"range":[-9,9]}},"shape":{"field":"g","type":"nominal"}}},
{"transform":[{"filter":{"field":"k","equal":"e"}}],"mark":{"type":"rule","strokeWidth":1.5},"encoding":{"y2":{"field":"y2"}}},
{"transform":[{"filter":{"field":"k","equal":"e"}}],"mark":{"type":"tick","size":13,"thickness":1.5,"opacity":1}},
{"transform":[{"filter":{"field":"k","equal":"c"}}],"mark":{"type":"tick","size":13,"thickness":1.5,"opacity":1}},
{"transform":[{"filter":{"field":"k","equal":"m"}}],"mark":{"type":"tick","size":26,"thickness":1.5,"opacity":1},"encoding":{"color":{"value":"#000"}}},
{"transform":[{"filter":{"field":"k","equal":"s"}}],"mark":{"type":"text","fontSize":11,"dy":2},"encoding":{"text":{"field":"s"},"color":{"value":"#3c3c3c"}}}
]},
{"title":"miR-128-5p","width":176,"height":117,"transform":[{"filter":{"field":"p","equal":"miR-128-5p"}}],
"encoding":{"x":{"field":"g","type":"nominal","title":null,"scale":{"type":"point","domain":["controls","Anti-NMDAR AE","Anti-GABAbR AE","Anti-LGI1 AE","Anti-CASPR2 AE"],"padding":0.44,"align":0.6}},"color":{"field":"g","type":"nominal"},
"y":{"field":"y","type":"quantitative","title":"Relative fold of miRNA expression","scale":{"domain":[0,15],"nice":false},"axis":{"values":[0,5,10,15]}}},
"layer":[
{"transform":[{"filter":"isValid(datum.i)"}],"mark":{"type":"point","filled":true,"size":40,"opacity":1},"encoding":{"xOffset":{"field":"i","type":"nominal","scale":{"range":[-9,9]}},"shape":{"field":"g","type":"nominal"}}},
{"transform":[{"filter":{"field":"k","equal":"e"}}],"mark":{"type":"rule","strokeWidth":1.5},"encoding":{"y2":{"field":"y2"}}},
{"transform":[{"filter":{"field":"k","equal":"e"}}],"mark":{"type":"tick","size":13,"thickness":1.5,"opacity":1}},
{"transform":[{"filter":{"field":"k","equal":"c"}}],"mark":{"type":"tick","size":13,"thickness":1.5,"opacity":1}},
{"transform":[{"filter":{"field":"k","equal":"m"}}],"mark":{"type":"tick","size":26,"thickness":1.5,"opacity":1},"encoding":{"color":{"value":"#000"}}},
{"transform":[{"filter":{"field":"k","equal":"s"}}],"mark":{"type":"text","fontSize":11,"dy":2},"encoding":{"text":{"field":"s"},"color":{"value":"#3c3c3c"}}}
]},
{"title":"miR-155-5p","width":176,"height":117,"transform":[{"filter":{"field":"p","equal":"miR-155-5p"}}],
"encoding":{"x":{"field":"g","type":"nominal","title":null,"scale":{"type":"point","domain":["controls","Anti-NMDAR AE","Anti-GABAbR AE","Anti-LGI1 AE","Anti-CASPR2 AE"],"padding":0.44,"align":0.6}},"color":{"field":"g","type":"nominal"},
"y":{"field":"y","type":"quantitative","title":"Relative fold of miRNA expression","scale":{"domain":[0,15],"nice":false},"axis":{"values":[0,5,10,15]}}},
"layer":[
{"transform":[{"filter":"isValid(datum.i)"}],"mark":{"type":"point","filled":true,"size":40,"opacity":1},"encoding":{"xOffset":{"field":"i","type":"nominal","scale":{"range":[-9,9]}},"shape":{"field":"g","type":"nominal"}}},
{"transform":[{"filter":{"field":"k","equal":"e"}}],"mark":{"type":"rule","strokeWidth":1.5},"encoding":{"y2":{"field":"y2"}}},
{"transform":[{"filter":{"field":"k","equal":"e"}}],"mark":{"type":"tick","size":13,"thickness":1.5,"opacity":1}},
{"transform":[{"filter":{"field":"k","equal":"c"}}],"mark":{"type":"tick","size":13,"thickness":1.5,"opacity":1}},
{"transform":[{"filter":{"field":"k","equal":"m"}}],"mark":{"type":"tick","size":26,"thickness":1.5,"opacity":1},"encoding":{"color":{"value":"#000"}}},
{"transform":[{"filter":{"field":"k","equal":"s"}}],"mark":{"type":"text","fontSize":11,"dy":2},"encoding":{"text":{"field":"s"},"color":{"value":"#3c3c3c"}}}
]},
{"title":"miR-34a-5p","width":176,"height":117,"transform":[{"filter":{"field":"p","equal":"miR-34a-5p"}}],
"encoding":{"x":{"field":"g","type":"nominal","title":null,"scale":{"type":"point","domain":["controls","Anti-NMDAR AE","Anti-GABAbR AE","Anti-LGI1 AE","Anti-CASPR2 AE"],"padding":0.44,"align":0.6}},"color":{"field":"g","type":"nominal"},
"y":{"field":"y","type":"quantitative","title":"Relative fold of miRNA expression","scale":{"domain":[0,15],"nice":false},"axis":{"values":[0,5,10,15]}}},
"layer":[
{"transform":[{"filter":"isValid(datum.i)"}],"mark":{"type":"point","filled":true,"size":40,"opacity":1},"encoding":{"xOffset":{"field":"i","type":"nominal","scale":{"range":[-9,9]}},"shape":{"field":"g","type":"nominal"}}},
{"transform":[{"filter":{"field":"k","equal":"e"}}],"mark":{"type":"rule","strokeWidth":1.5},"encoding":{"y2":{"field":"y2"}}},
{"transform":[{"filter":{"field":"k","equal":"e"}}],"mark":{"type":"tick","size":13,"thickness":1.5,"opacity":1}},
{"transform":[{"filter":{"field":"k","equal":"c"}}],"mark":{"type":"tick","size":13,"thickness":1.5,"opacity":1}},
{"transform":[{"filter":{"field":"k","equal":"m"}}],"mark":{"type":"tick","size":26,"thickness":1.5,"opacity":1},"encoding":{"color":{"value":"#000"}}},
{"transform":[{"filter":{"field":"k","equal":"s"}}],"mark":{"type":"text","fontSize":11,"dy":2},"encoding":{"text":{"field":"s"},"color":{"value":"#3c3c3c"}}}
]},
{"title":"miR-326-5p","width":176,"height":117,"transform":[{"filter":{"field":"p","equal":"miR-326-5p"}}],
"encoding":{"x":{"field":"g","type":"nominal","title":null,"scale":{"type":"point","domain":["controls","Anti-NMDAR AE","Anti-GABAbR AE","Anti-LGI1 AE","Anti-CASPR2 AE"],"padding":0.44,"align":0.6}},"color":{"field":"g","type":"nominal"},
"y":{"field":"y","type":"quantitative","title":"Relative fold of miRNA expression","scale":{"domain":[0,25],"nice":false},"axis":{"values":[0,5,10,15,20,25]}}},
"layer":[
{"transform":[{"filter":"isValid(datum.i)"}],"mark":{"type":"point","filled":true,"size":40,"opacity":1},"encoding":{"xOffset":{"field":"i","type":"nominal","scale":{"range":[-9,9]}},"shape":{"field":"g","type":"nominal"}}},
{"transform":[{"filter":{"field":"k","equal":"e"}}],"mark":{"type":"rule","strokeWidth":1.5},"encoding":{"y2":{"field":"y2"}}},
{"transform":[{"filter":{"field":"k","equal":"e"}}],"mark":{"type":"tick","size":13,"thickness":1.5,"opacity":1}},
{"transform":[{"filter":{"field":"k","equal":"c"}}],"mark":{"type":"tick","size":13,"thickness":1.5,"opacity":1}},
{"transform":[{"filter":{"field":"k","equal":"m"}}],"mark":{"type":"tick","size":26,"thickness":1.5,"opacity":1},"encoding":{"color":{"value":"#000"}}},
{"transform":[{"filter":{"field":"k","equal":"s"}}],"mark":{"type":"text","fontSize":11,"dy":2},"encoding":{"text":{"field":"s"},"color":{"value":"#3c3c3c"}}}
]},
{"title":"miR-132-5p","width":176,"height":117,"transform":[{"filter":{"field":"p","equal":"miR-132-5p"}}],
"encoding":{"x":{"field":"g","type":"nominal","title":null,"scale":{"type":"point","domain":["controls","Anti-NMDAR AE","Anti-GABAbR AE","Anti-LGI1 AE","Anti-CASPR2 AE"],"padding":0.44,"align":0.6}},"color":{"field":"g","type":"nominal"},
"y":{"field":"y","type":"quantitative","title":"Relative fold of miRNA expression","scale":{"domain":[0,15],"nice":false},"axis":{"values":[0,5,10,15]}}},
"layer":[
{"transform":[{"filter":"isValid(datum.i)"}],"mark":{"type":"point","filled":true,"size":40,"opacity":1},"encoding":{"xOffset":{"field":"i","type":"nominal","scale":{"range":[-9,9]}},"shape":{"field":"g","type":"nominal"}}},
{"transform":[{"filter":{"field":"k","equal":"e"}}],"mark":{"type":"rule","strokeWidth":1.5},"encoding":{"y2":{"field":"y2"}}},
{"transform":[{"filter":{"field":"k","equal":"e"}}],"mark":{"type":"tick","size":13,"thickness":1.5,"opacity":1}},
{"transform":[{"filter":{"field":"k","equal":"c"}}],"mark":{"type":"tick","size":13,"thickness":1.5,"opacity":1}},
{"transform":[{"filter":{"field":"k","equal":"m"}}],"mark":{"type":"tick","size":26,"thickness":1.5,"opacity":1},"encoding":{"color":{"value":"#000"}}},
{"transform":[{"filter":{"field":"k","equal":"s"}}],"mark":{"type":"text","fontSize":11,"dy":2},"encoding":{"text":{"field":"s"},"color":{"value":"#3c3c3c"}}}
]},
{"title":"miR-29b-5p","width":176,"height":117,"transform":[{"filter":{"field":"p","equal":"miR-29b-5p"}}],
"encoding":{"x":{"field":"g","type":"nominal","title":null,"scale":{"type":"point","domain":["controls","Anti-NMDAR AE","Anti-GABAbR AE","Anti-LGI1 AE","Anti-CASPR2 AE"],"padding":0.44,"align":0.6}},"color":{"field":"g","type":"nominal"},
"y":{"field":"y","type":"quantitative","title":"Relative fold of miRNA expression","scale":{"domain":[0,8],"nice":false},"axis":{"values":[0,2,4,6,8]}}},
"layer":[
{"transform":[{"filter":"isValid(datum.i)"}],"mark":{"type":"point","filled":true,"size":40,"opacity":1},"encoding":{"xOffset":{"field":"i","type":"nominal","scale":{"range":[-9,9]}},"shape":{"field":"g","type":"nominal"}}},
{"transform":[{"filter":{"field":"k","equal":"e"}}],"mark":{"type":"rule","strokeWidth":1.5},"encoding":{"y2":{"field":"y2"}}},
{"transform":[{"filter":{"field":"k","equal":"e"}}],"mark":{"type":"tick","size":13,"thickness":1.5,"opacity":1}},
{"transform":[{"filter":{"field":"k","equal":"c"}}],"mark":{"type":"tick","size":13,"thickness":1.5,"opacity":1}},
{"transform":[{"filter":{"field":"k","equal":"m"}}],"mark":{"type":"tick","size":26,"thickness":1.5,"opacity":1},"encoding":{"color":{"value":"#000"}}},
{"transform":[{"filter":{"field":"k","equal":"s"}}],"mark":{"type":"text","fontSize":11,"dy":2},"encoding":{"text":{"field":"s"},"color":{"value":"#3c3c3c"}}}
]},
{"title":"miR-20a-5p","width":176,"height":117,"transform":[{"filter":{"field":"p","equal":"miR-20a-5p"}}],
"encoding":{"x":{"field":"g","type":"nominal","title":null,"scale":{"type":"point","domain":["controls","Anti-NMDAR AE","Anti-GABAbR AE","Anti-LGI1 AE","Anti-CASPR2 AE"],"padding":0.44,"align":0.6}},"color":{"field":"g","type":"nominal"},
"y":{"field":"y","type":"quantitative","title":"Relative fold of miRNA expression","scale":{"domain":[0,2],"nice":false},"axis":{"values":[0,0.5,1,1.5,2],"format":".1f"}}},
"layer":[
{"transform":[{"filter":"isValid(datum.i)"}],"mark":{"type":"point","filled":true,"size":40,"opacity":1},"encoding":{"xOffset":{"field":"i","type":"nominal","scale":{"range":[-9,9]}},"shape":{"field":"g","type":"nominal"}}},
{"transform":[{"filter":{"field":"k","equal":"e"}}],"mark":{"type":"rule","strokeWidth":1.5},"encoding":{"y2":{"field":"y2"}}},
{"transform":[{"filter":{"field":"k","equal":"e"}}],"mark":{"type":"tick","size":13,"thickness":1.5,"opacity":1}},
{"transform":[{"filter":{"field":"k","equal":"c"}}],"mark":{"type":"tick","size":13,"thickness":1.5,"opacity":1}},
{"transform":[{"filter":{"field":"k","equal":"m"}}],"mark":{"type":"tick","size":26,"thickness":1.5,"opacity":1},"encoding":{"color":{"value":"#000"}}},
{"transform":[{"filter":{"field":"k","equal":"s"}}],"mark":{"type":"text","fontSize":11,"dy":2},"encoding":{"text":{"field":"s"},"color":{"value":"#3c3c3c"}}}
]}
],
"config": {
"font": "Liberation Sans",
"view": {"stroke": null},
"legend": {"disable": true},
"title": {"fontSize": 10.5, "fontWeight": "bold", "color": "#000", "offset": 6, "anchor": "middle"},
"axis": {"grid": false, "domainColor": "#000", "tickColor": "#000", "labelColor": "#000", "titleColor": "#000", "labelFontWeight": "bold", "domainWidth": 1.2, "tickWidth": 1.2, "tickSize": 4},
"axisY": {"labelFontSize": 9, "titleFontSize": 6.5, "titleFontWeight": "bold", "titlePadding": 3, "labelPadding": 2},
"axisX": {"labelAngle": -45, "labelFontSize": 6.5, "labelPadding": 3},
"range": {"category": ["#b428e6", "#ff8a1e", "#1ec31e", "#f23c46", "#1010f0"], "symbol": ["diamond", "triangle-up", "triangle-down", "square", "circle"]}
}
}
